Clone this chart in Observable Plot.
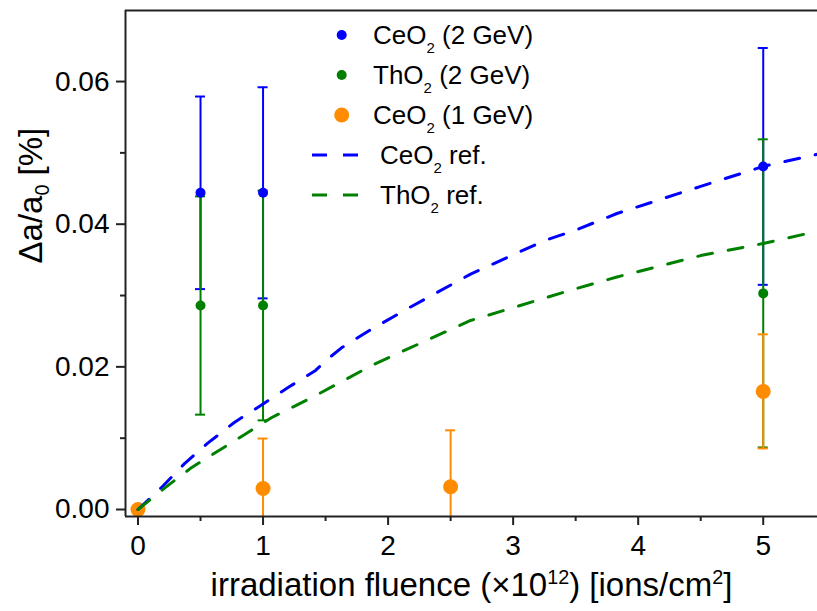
<!DOCTYPE html>
<html><head><meta charset="utf-8">
<script src="https://cdn.jsdelivr.net/npm/d3@7"></script>
<script src="https://cdn.jsdelivr.net/npm/@observablehq/plot@0.6"></script>
<style>
body{margin:0;background:#fff;}
#chart{position:relative;width:817px;height:611px;font-family:"Liberation Sans",Arial,sans-serif;}
#legend{position:absolute;left:305px;top:15px;font-size:26px;color:#000;}
.row{display:flex;align-items:center;height:40px;line-height:1;white-space:nowrap;}
.row svg{flex:none;}
.row sub{font-size:15px;vertical-align:-9px;line-height:0;}
</style></head><body><div id="chart"></div>
<script>
// ---- tick values / domains ----
const xTicks = [0, 1, 2, 3, 4, 5];
const xMinorTicks = [0.5, 1.5, 2.5, 3.5, 4.5];
const yTicks = [0, 0.02, 0.04, 0.06];
const yMinorTicks = [0.01, 0.03, 0.05];
const xDomain = [-0.1, 5.434];
const yDomain = [-0.00098, 0.06996];

// ---- measured series ----
const fluence2GeV = [0, 0.5, 1, 5];
const ceO2_2GeV = [0, 0.0444, 0.0444, 0.0481];
const ceO2_2GeV_err = [0, 0.0135, 0.0148, 0.0166];
const thO2_2GeV = [0, 0.0286, 0.0286, 0.0303];
const thO2_2GeV_err = [0, 0.0153, 0.0161, 0.0216];
const fluence1GeV = [0, 1, 2.5, 5];
const ceO2_1GeV = [0, 0.00295, 0.0032, 0.01656];
const ceO2_1GeV_err = [0, 0.0070, 0.0079, 0.0080];

// ---- reference curves ----
const ceO2RefX = [0, 0.2, 0.37, 0.55, 0.77, 1.0, 1.2, 1.42, 1.51, 1.63, 1.85, 2.18, 2.66, 3.25, 3.49, 3.83, 4.5, 5.0, 5.33, 5.434];
const ceO2RefY = [0, 0.0033, 0.0064, 0.0092, 0.0122, 0.0148, 0.0171, 0.0195, 0.0210, 0.0227, 0.0251, 0.0284, 0.0330, 0.0377, 0.0391, 0.0415, 0.0453, 0.0481, 0.0494, 0.0498];
const thO2RefX = [0, 0.22, 0.43, 0.86, 1.07, 1.39, 1.87, 2.18, 2.66, 3.45, 3.83, 4.5, 5.0, 5.33, 5.434];
const thO2RefY = [0, 0.0031, 0.0059, 0.0106, 0.0129, 0.0157, 0.0202, 0.0227, 0.0265, 0.0307, 0.0326, 0.0356, 0.0373, 0.0386, 0.0389];

// ---- text ----
const xLabel = "irradiation fluence (×10^{12}) [ions/cm^{2}]";
const yLabel = "Δa/a_{0} [%]";
const legendLabels = ["CeO_{2} (2 GeV)", "ThO_{2} (2 GeV)", "CeO_{2} (1 GeV)", "CeO_{2} ref.", "ThO_{2} ref."];

const blue = "#0000ff", green = "#008000", orange = "#ff8c00", axisColor = "#222";
const capHalf = 0.04;

const rows = (xs, ys, es) => xs.map((x, i) => ({x, y: ys[i], lo: ys[i] - es[i], hi: ys[i] + es[i]}));
const line = (xs, ys) => xs.map((x, i) => ({x, y: ys[i]}));
const ceRows = rows(fluence2GeV, ceO2_2GeV, ceO2_2GeV_err);
const thRows = rows(fluence2GeV, thO2_2GeV, thO2_2GeV_err);
const ce1Rows = rows(fluence1GeV, ceO2_1GeV, ceO2_1GeV_err);

function errorBars(data, color) {
  const withErr = data.filter(d => d.hi > d.lo);
  return [
    Plot.ruleX(withErr, {x: "x", y1: "lo", y2: "hi", stroke: color, strokeWidth: 2, clip: true}),
    Plot.ruleY(withErr, {y: "hi", x1: d => d.x - capHalf, x2: d => d.x + capHalf, stroke: color, strokeWidth: 2, clip: true}),
    Plot.ruleY(withErr, {y: "lo", x1: d => d.x - capHalf, x2: d => d.x + capHalf, stroke: color, strokeWidth: 2, clip: true})
  ];
}

const chart = Plot.plot({
  width: 817, height: 611,
  marginLeft: 125, marginRight: 0, marginTop: 10, marginBottom: 95,
  style: {fontFamily: '"Liberation Sans", Arial, sans-serif', color: "#000", background: "#fff"},
  x: {domain: xDomain},
  y: {domain: yDomain},
  marks: [
    ...errorBars(ceRows, blue),
    ...errorBars(thRows, green),
    ...errorBars(ce1Rows, orange),
    Plot.dot(ceRows, {x: "x", y: "y", r: 5, fill: blue, stroke: "none"}),
    Plot.dot(thRows, {x: "x", y: "y", r: 5, fill: green, stroke: "none"}),
    Plot.dot(ce1Rows, {x: "x", y: "y", r: 7.5, fill: orange, stroke: "none"}),
    Plot.line(line(ceO2RefX, ceO2RefY), {x: "x", y: "y", stroke: blue, strokeWidth: 3, strokeDasharray: "15,16", clip: true}),
    Plot.line(line(thO2RefX, thO2RefY), {x: "x", y: "y", stroke: green, strokeWidth: 3, strokeDasharray: "15,16", clip: true}),
    Plot.ruleY([yDomain[0]], {stroke: axisColor, strokeWidth: 2}),
    Plot.ruleY([yDomain[1]], {stroke: axisColor, strokeWidth: 2}),
    Plot.ruleX([xDomain[0]], {stroke: axisColor, strokeWidth: 2}),
    Plot.axisX(xTicks, {tickSize: 9, tickPadding: 10, fontSize: 28, strokeWidth: 2, stroke: axisColor, label: null, tickFormat: d3.format("d")}),
    Plot.axisX(xMinorTicks, {tickSize: 5, strokeWidth: 2, stroke: axisColor, label: null, tickFormat: () => ""}),
    Plot.axisY(yTicks, {tickSize: 9, tickPadding: 7, fontSize: 28, strokeWidth: 2, stroke: axisColor, label: null, tickFormat: d3.format(".2f")}),
    Plot.axisY(yMinorTicks, {tickSize: 5, strokeWidth: 2, stroke: axisColor, label: null, tickFormat: () => ""}),
    Plot.text([xLabel], {text: d => d, frameAnchor: "bottom", dy: 79, lineAnchor: "bottom", fontSize: 33, fill: "#000"}),
    Plot.text([yLabel], {text: d => d, frameAnchor: "left", dx: -84, rotate: -90, lineAnchor: "bottom", fontSize: 33, fill: "#000"})
  ]
});

// turn _{..} and ^{..} into real sub/superscript tspans
const SVGNS = "http://www.w3.org/2000/svg";
chart.querySelectorAll("text").forEach(t => {
  const s = t.textContent;
  if (!/[_^]\{/.test(s)) return;
  const fs = parseFloat(getComputedStyle(t).fontSize) || 33;
  const parts = s.split(/([_^]\{[^}]*\})/);
  while (t.firstChild) t.removeChild(t.firstChild);
  parts.forEach(p => {
    if (!p) return;
    const ts = document.createElementNS(SVGNS, "tspan");
    if (/^[_^]\{/.test(p)) {
      const sup = p[0] === "^";
      const shift = sup ? -0.36 * fs : 0.22 * fs;
      ts.setAttribute("dy", shift);
      ts.setAttribute("font-size", 0.6 * fs);
      ts.textContent = p.slice(2, -1);
      t.appendChild(ts);
      const back = document.createElementNS(SVGNS, "tspan");
      back.setAttribute("dy", -shift);
      back.textContent = "";
      t.appendChild(back);
      ts._back = back;
    } else {
      ts.textContent = p;
      t.appendChild(ts);
    }
  });
  // merge zero-length return tspans with next text
  const kids = Array.from(t.childNodes);
  for (let i = 0; i < kids.length; i++) {
    const k = kids[i];
    if (k.getAttribute && k.getAttribute("dy") && k.textContent === "" && kids[i + 1]) {
      kids[i + 1].setAttribute("dy", k.getAttribute("dy"));
      t.removeChild(k);
    }
  }
});

const container = document.getElementById("chart");
container.appendChild(chart);

// legend
const legendSpecs = [
  {kind: "dot", color: blue, r: 5},
  {kind: "dot", color: green, r: 5},
  {kind: "dot", color: orange, r: 7.5},
  {kind: "dash", color: blue},
  {kind: "dash", color: green}
];
const legend = document.createElement("div");
legend.id = "legend";
legendSpecs.forEach((spec, i) => {
  const row = document.createElement("div");
  row.className = "row";
  const sw = d3.create("svg").attr("width", 68).attr("height", 40);
  if (spec.kind === "dot") sw.append("circle").attr("cx", 36.7).attr("cy", 20).attr("r", spec.r).attr("fill", spec.color);
  else sw.append("line").attr("x1", 7).attr("x2", 55).attr("y1", 20).attr("y2", 20)
    .attr("stroke", spec.color).attr("stroke-width", 3).attr("stroke-dasharray", "15,16");
  row.appendChild(sw.node());
  const label = document.createElement("span");
  if (spec.kind === "dash") label.style.marginLeft = "7px";
  label.innerHTML = legendLabels[i].replace(/_\{([^}]*)\}/g, "<sub>$1</sub>");
  row.appendChild(label);
  legend.appendChild(row);
});
container.appendChild(legend);
</script></body></html>
